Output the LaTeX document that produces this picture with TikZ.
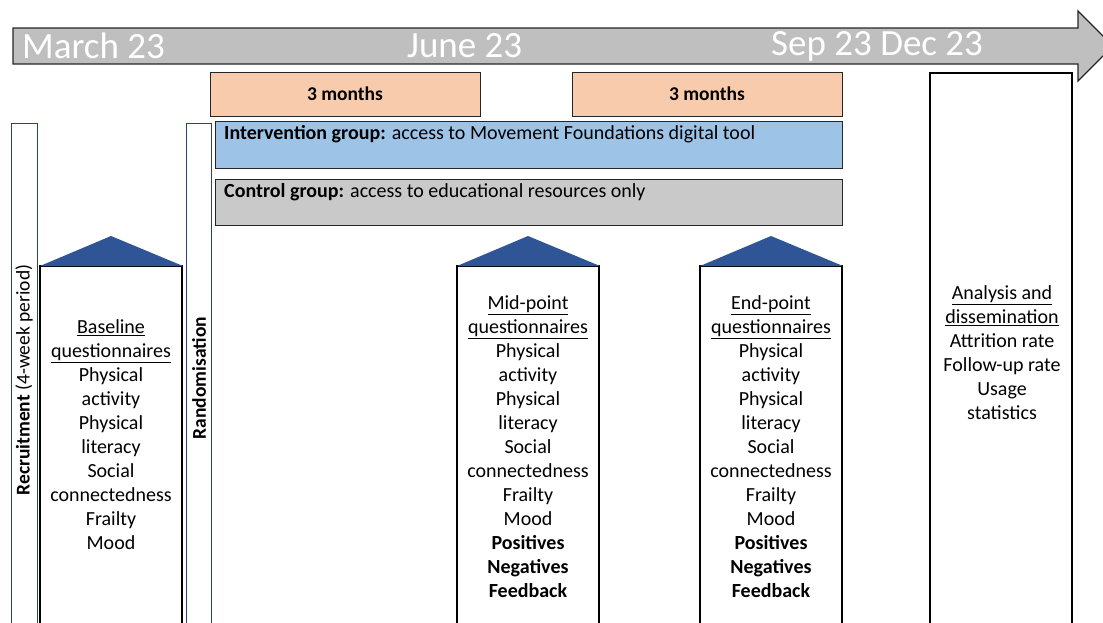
\documentclass[tikz,border=0pt]{standalone}
\usepackage{fontspec}
\setmainfont{Carlito}
\usepackage{xcolor}
\definecolor{arrowgrey}{HTML}{BFBFBF}
\definecolor{monthorange}{HTML}{F8CBAD}
\definecolor{intervblue}{HTML}{9DC3E6}
\definecolor{controlgrey}{HTML}{C9C9C9}
\definecolor{roofblue}{HTML}{2F5597}
\definecolor{edge}{HTML}{262626}

\begin{document}
\begin{tikzpicture}[x=1pt,y=-1pt,
  timeline/.style={draw=edge, line width=1.3pt, fill=arrowgrey},
  datetext/.style={text=white, font=\fontsize{37}{40}\selectfont, inner sep=0, anchor=west},
  monthbox/.style={draw=edge, line width=1pt, fill=monthorange, minimum width=270pt, minimum height=44pt, font=\fontsize{19.5}{22}\selectfont\bfseries},
  groupbox/.style={draw=edge, line width=1pt},
  grouptext/.style={anchor=north west, inner sep=0, font=\fontsize{20}{22}\selectfont},
  bar/.style={draw=roofblue!80!black, line width=1pt},
  bartext/.style={rotate=90, inner sep=0, font=\fontsize{19.5}{22}\selectfont},
  colbox/.style={draw=black, line width=1.3pt},
  roof/.style={fill=roofblue},
  coltext/.style={align=center, inner sep=0, font=\fontsize{20}{24}\selectfont}]
\useasboundingbox (0,0) rectangle (1103,622);
\clip (0,0) rectangle (1103,622);

% time arrow along the top
\draw[timeline] (13,28) -- (1078,28) -- (1078,11) -- (1113,46) -- (1078,81) -- (1078,64) -- (13,64) -- cycle;
\node[datetext] (march) at (22,46) {March 23};
\node[datetext] (june) at (407,46) {June 23};
\node[datetext] (sepdec) at (771,46) {Sep 23 Dec 23};

% the two 3-month blocks
\node[monthbox] (first) at (345,94) {3 months};
\node[monthbox] (second) at (707,94) {3 months};

% study arms
\draw[groupbox, fill=intervblue] (215,121) rectangle (842,168);
\node[grouptext] (interv) at (224,125) {\textbf{Intervention group:} access to Movement Foundations digital tool};
\draw[groupbox, fill=controlgrey] (215,179) rectangle (842,225);
\node[grouptext] (control) at (224,183) {\textbf{Control group:} access to educational resources only};

% recruitment and randomisation bars
\draw[bar] (11,123) rectangle (37,640);
\node[bartext] (recruit) at (24,380) {\textbf{Recruitment} (4-week period)};
\draw[bar] (186,123) rectangle (211,640);
\node[bartext] (random) at (199,378) {\textbf{Randomisation}};

% questionnaire columns with their roofs
\foreach \x in {40,457,700} {
  \draw[colbox] (\x,266) rectangle ++(142,380);
  \fill[roof] (\x,266) -- ++(71,-30) -- ++(72,30) -- cycle;
}
\node[coltext] (baseline) at (111,435) {\underline{Baseline}\\\underline{questionnaires}\\Physical\\activity\\Physical\\literacy\\Social\\connectedness\\Frailty\\Mood};
\node[coltext] (midpoint) at (528,447) {\underline{Mid-point}\\\underline{questionnaires}\\Physical\\activity\\Physical\\literacy\\Social\\connectedness\\Frailty\\Mood\\\textbf{Positives}\\\textbf{Negatives}\\\textbf{Feedback}};
\node[coltext] (endpoint) at (771,447) {\underline{End-point}\\\underline{questionnaires}\\Physical\\activity\\Physical\\literacy\\Social\\connectedness\\Frailty\\Mood\\\textbf{Positives}\\\textbf{Negatives}\\\textbf{Feedback}};

% analysis column
\draw[colbox] (930,73) rectangle (1072,640);
\node[coltext] (analysis) at (1002,353) {\underline{Analysis and}\\\underline{dissemination}\\Attrition rate\\Follow-up rate\\Usage\\statistics};
\end{tikzpicture}
\end{document}
